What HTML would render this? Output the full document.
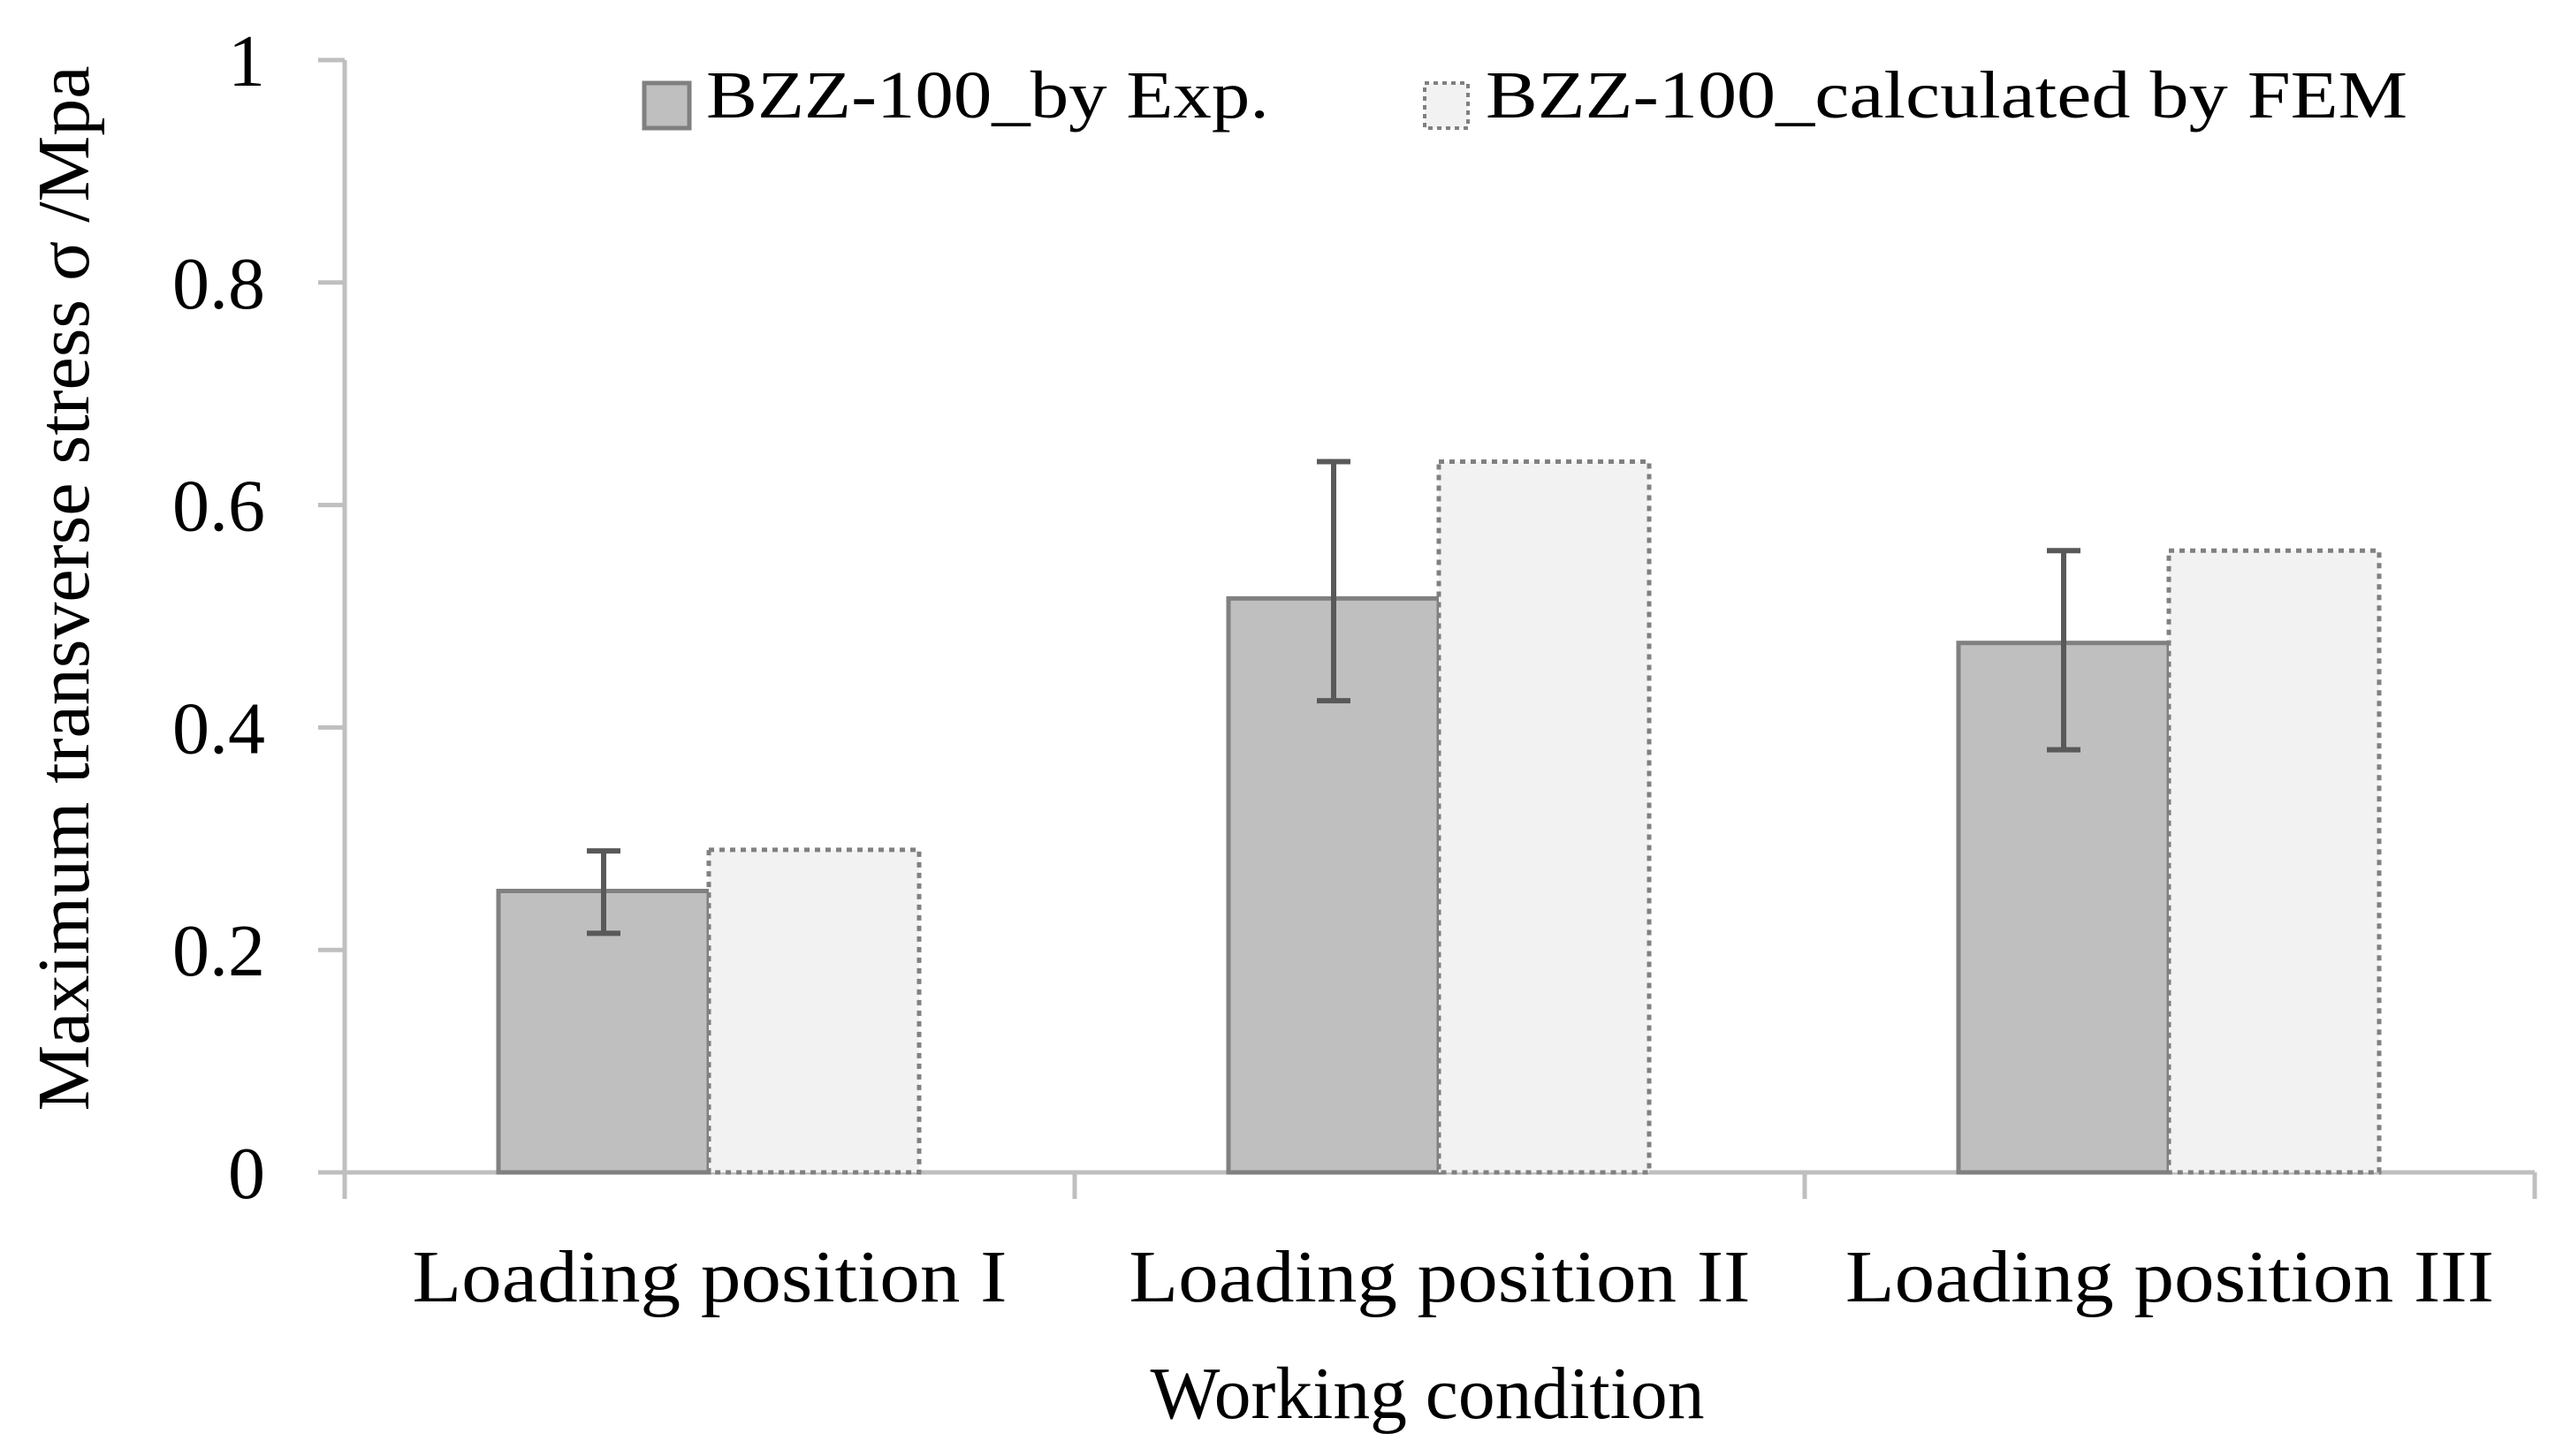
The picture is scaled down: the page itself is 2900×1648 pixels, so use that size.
<!DOCTYPE html>
<html><head><meta charset="utf-8">
<style>html,body{margin:0;padding:0;background:#fff;}svg{display:block;}</style>
</head><body>
<svg id="chart" width="2900" height="1648" viewBox="0 0 2900 1648" xmlns="http://www.w3.org/2000/svg" font-family="'Liberation Serif', serif">
<g id="axes"></g>
<g id="bars"></g>
<g id="labels"></g>
<text x="0" y="0" transform="translate(100,666) rotate(-90)" text-anchor="middle" font-size="84" textLength="1183" lengthAdjust="spacingAndGlyphs">Maximum transverse stress σ /Mpa</text>
<text x="1615" y="1605" text-anchor="middle" font-size="84" textLength="627" lengthAdjust="spacingAndGlyphs">Working condition</text>
<g>
<rect x="729" y="94" width="51" height="51" fill="#bfbfbf" stroke="#808080" stroke-width="5"/>
<text x="799" y="133" font-size="76" textLength="637" lengthAdjust="spacingAndGlyphs">BZZ-100_by Exp.</text>
<rect x="1612" y="94" width="49" height="51" fill="#f2f2f2" stroke="#808080" stroke-width="4" stroke-dasharray="5 5"/>
<text x="1681" y="133" font-size="76" textLength="1043" lengthAdjust="spacingAndGlyphs">BZZ-100_calculated by FEM</text>
</g>
</svg>
<script>
const categories = ["Loading position I", "Loading position II", "Loading position III"];
const expValues = [0.253, 0.516, 0.476];
const expErrUpper = [0.289, 0.639, 0.559];
const expErrLower = [0.215, 0.424, 0.380];
const femValues = [0.290, 0.639, 0.559];
const yTicks = [0, 0.2, 0.4, 0.6, 0.8, 1];
const yTickLabels = ["0", "0.2", "0.4", "0.6", "0.8", "1"];
const catLabelWidths = [673, 703, 734];

const NS = "http://www.w3.org/2000/svg";
const x0 = 390, x1 = 2868, yBase = 1327, yTop = 68;
const groupW = (x1 - x0) / categories.length;
function yScale(v){ return yBase - v * (yBase - yTop); }
function xGroup(i){ return x0 + i * groupW; }
function mk(tag, attrs, parent){ const e = document.createElementNS(NS, tag); for (const k in attrs) e.setAttribute(k, attrs[k]); parent.appendChild(e); return e; }

const axes = document.getElementById('axes');
const bars = document.getElementById('bars');
const labels = document.getElementById('labels');

// y axis
let yl = mk('line', {x1:x0, y1:yTop, x2:x0, y2:1357, stroke:'#bfbfbf', 'stroke-width':5}, axes);


yTicks.forEach((t, i) => {
  const y = yScale(t);
  const tk = mk('line', {x1:360, y1:y, x2:x0, y2:y, stroke:'#bfbfbf', 'stroke-width':5}, axes);
  
  
  const tx = mk('text', {x:300, y:y + 29, 'text-anchor':'end', 'font-size':84}, labels);
  tx.textContent = yTickLabels[i];
  
  
});

categories.forEach((c, i) => {
  const gx = xGroup(i);
  const bw = 238, off = 174;
  // exp bar
  const ey = yScale(expValues[i]);
  const eb = mk('rect', {x:gx + off, y:ey, width:bw, height:yBase - ey, fill:'#bfbfbf', stroke:'#808080', 'stroke-width':5}, bars);
  
  
  // fem bar
  const fy = yScale(femValues[i]);
  const fb = mk('rect', {x:gx + off + bw, y:fy, width:bw, height:yBase - fy, fill:'#f2f2f2', stroke:'#808080', 'stroke-width':5, 'stroke-dasharray':'6 6'}, bars);
  
  
  // error bar
  const cx = gx + off + bw / 2;
  const yu = yScale(expErrUpper[i]), yd = yScale(expErrLower[i]);
  const eg = mk('g', {stroke:'#595959', 'stroke-width':6}, bars);
  
  
  mk('line', {x1:cx, y1:yu, x2:cx, y2:yd}, eg);
  mk('line', {x1:cx - 19, y1:yu, x2:cx + 19, y2:yu}, eg);
  mk('line', {x1:cx - 19, y1:yd, x2:cx + 19, y2:yd}, eg);
  // category label
  const lt = mk('text', {x:gx + groupW / 2, y:1473, 'text-anchor':'middle', 'font-size':84, textLength:catLabelWidths[i], lengthAdjust:'spacingAndGlyphs'}, labels);
  lt.textContent = c;
  
  
});

// x axis
let xl = mk('line', {x1:360, y1:yBase, x2:x1, y2:yBase, stroke:'#bfbfbf', 'stroke-width':5}, axes);


for (let i = 0; i <= categories.length; i++) {
  const gx = xGroup(i);
  const tk = mk('line', {x1:gx, y1:yBase, x2:gx, y2:1357, stroke:'#bfbfbf', 'stroke-width':5}, axes);
  
  
}
</script>
</body></html>
